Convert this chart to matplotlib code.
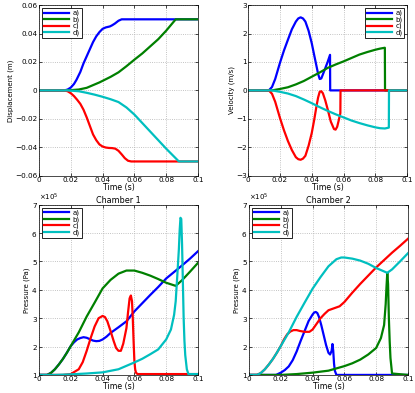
import numpy as np
import matplotlib
matplotlib.use("Agg")
from matplotlib import pyplot as plt
from matplotlib.ticker import ScalarFormatter

labels = ["a)", "b)", "c)", "d)"]
colors = ["#0000ff", "#008000", "#ff0000", "#00bfbf"]

# ---- displacement (m) ----
disp_a_t = [0, 0.016, 0.018, 0.020, 0.022, 0.0236, 0.026, 0.028, 0.030, 0.032, 0.034, 0.036, 0.038, 0.040, 0.042, 0.0446, 0.046, 0.0477, 0.050, 0.052, 0.1]
disp_a_y = [0, 0, 0.0006, 0.002, 0.0045, 0.0075, 0.013, 0.019, 0.024, 0.029, 0.034, 0.038, 0.041, 0.0433, 0.0443, 0.045, 0.0458, 0.047, 0.049, 0.05, 0.05]
disp_b_t = [0, 0.018, 0.025, 0.030, 0.038, 0.045, 0.050, 0.055, 0.060, 0.065, 0.070, 0.075, 0.080, 0.083, 0.086, 0.1]
disp_b_y = [0, 0, 0.0006, 0.0018, 0.0056, 0.0095, 0.0127, 0.017, 0.0216, 0.026, 0.031, 0.036, 0.042, 0.046, 0.05, 0.05]
disp_c_t = [0, 0.016, 0.018, 0.020, 0.022, 0.024, 0.026, 0.028, 0.030, 0.032, 0.034, 0.036, 0.038, 0.040, 0.042, 0.044, 0.046, 0.048, 0.050, 0.052, 0.054, 0.056, 0.058, 0.1]
disp_c_y = [0, 0, -0.0006, -0.002, -0.004, -0.0066, -0.0095, -0.0136, -0.019, -0.025, -0.031, -0.035, -0.038, -0.0395, -0.0402, -0.0405, -0.0406, -0.041, -0.0425, -0.045, -0.0477, -0.0495, -0.05, -0.05]
disp_d_t = [0, 0.018, 0.025, 0.030, 0.035, 0.040, 0.045, 0.050, 0.055, 0.060, 0.065, 0.070, 0.075, 0.080, 0.084, 0.088, 0.1]
disp_d_y = [0, 0, -0.0006, -0.0017, -0.003, -0.0045, -0.0062, -0.0082, -0.012, -0.017, -0.023, -0.029, -0.035, -0.041, -0.0455, -0.05, -0.05]

# ---- velocity (m/s) ----
vel_a_t = [0, 0.013, 0.015, 0.017, 0.020, 0.0225, 0.025, 0.0275, 0.030, 0.0315, 0.033, 0.0345, 0.036, 0.038, 0.040, 0.0415, 0.043, 0.044, 0.045, 0.046, 0.047, 0.0485, 0.050, 0.0515, 0.0516, 0.1]
vel_a_y = [0, 0, 0.12, 0.4, 0.97, 1.4, 1.78, 2.15, 2.42, 2.53, 2.57, 2.53, 2.42, 2.1, 1.66, 1.25, 0.85, 0.58, 0.4, 0.42, 0.56, 0.78, 1.0, 1.25, 0, 0]
vel_b_t = [0, 0.015, 0.020, 0.025, 0.030, 0.035, 0.040, 0.045, 0.050, 0.055, 0.060, 0.065, 0.070, 0.075, 0.080, 0.083, 0.086, 0.0861, 0.1]
vel_b_y = [0, 0, 0.05, 0.11, 0.21, 0.33, 0.48, 0.63, 0.79, 0.91, 1.02, 1.14, 1.26, 1.35, 1.43, 1.47, 1.5, 0, 0]
vel_c_t = [0, 0.013, 0.015, 0.017, 0.020, 0.0225, 0.025, 0.0275, 0.030, 0.0315, 0.033, 0.0345, 0.036, 0.038, 0.040, 0.0415, 0.043, 0.044, 0.045, 0.046, 0.047, 0.0485, 0.050, 0.052, 0.054, 0.055, 0.056, 0.057, 0.058, 0.0581, 0.1]
vel_c_y = [0, 0, -0.12, -0.4, -0.97, -1.4, -1.78, -2.1, -2.35, -2.42, -2.44, -2.4, -2.3, -1.95, -1.5, -1.05, -0.55, -0.25, -0.05, -0.03, -0.1, -0.35, -0.66, -1.1, -1.36, -1.38, -1.28, -1.05, -0.8, 0, 0]
vel_d_t = [0, 0.015, 0.020, 0.025, 0.030, 0.035, 0.040, 0.045, 0.050, 0.055, 0.060, 0.065, 0.070, 0.075, 0.080, 0.083, 0.086, 0.0885, 0.0886, 0.1]
vel_d_y = [0, 0, -0.05, -0.11, -0.2, -0.32, -0.45, -0.59, -0.72, -0.84, -0.95, -1.06, -1.15, -1.23, -1.3, -1.33, -1.34, -1.31, 0, 0]

# ---- chamber 1 pressure (x1e5 Pa) ----
p1_a_t = [0, 0.005, 0.0075, 0.010, 0.0125, 0.015, 0.0175, 0.020, 0.022, 0.024, 0.026, 0.028, 0.030, 0.032, 0.034, 0.036, 0.038, 0.040, 0.0425, 0.045, 0.050, 0.055, 0.060, 0.065, 0.070, 0.075, 0.080, 0.085, 0.090, 0.095, 0.1]
p1_a_y = [1.0, 1.0, 1.07, 1.2, 1.37, 1.56, 1.78, 2.02, 2.15, 2.25, 2.3, 2.33, 2.31, 2.26, 2.21, 2.19, 2.2, 2.25, 2.35, 2.48, 2.68, 2.89, 3.24, 3.53, 3.82, 4.1, 4.4, 4.63, 4.86, 5.1, 5.36]
p1_b_t = [0, 0.005, 0.0075, 0.010, 0.0125, 0.015, 0.0175, 0.020, 0.025, 0.030, 0.035, 0.040, 0.045, 0.050, 0.055, 0.060, 0.065, 0.070, 0.075, 0.080, 0.086, 0.090, 0.095, 0.1]
p1_b_y = [1.0, 1.0, 1.07, 1.2, 1.37, 1.56, 1.78, 2.02, 2.5, 3.06, 3.55, 4.05, 4.35, 4.57, 4.68, 4.68, 4.6, 4.5, 4.38, 4.25, 4.14, 4.34, 4.64, 4.95]
p1_c_t = [0, 0.015, 0.020, 0.025, 0.0275, 0.030, 0.0325, 0.035, 0.0375, 0.040, 0.0415, 0.043, 0.045, 0.047, 0.0485, 0.050, 0.0515, 0.053, 0.055, 0.056, 0.057, 0.0578, 0.0585, 0.059, 0.0595, 0.060, 0.0605, 0.061, 0.062, 0.1]
p1_c_y = [1.0, 1.0, 1.03, 1.2, 1.45, 1.85, 2.3, 2.71, 3.0, 3.08, 3.04, 2.89, 2.55, 2.19, 1.95, 1.85, 1.85, 2.1, 2.65, 3.2, 3.7, 3.8, 3.6, 3.0, 2.2, 1.5, 1.2, 1.08, 1.03, 1.03]
p1_d_t = [0, 0.010, 0.020, 0.030, 0.040, 0.050, 0.060, 0.065, 0.070, 0.075, 0.080, 0.083, 0.085, 0.086, 0.087, 0.088, 0.0885, 0.089, 0.0895, 0.090, 0.0905, 0.091, 0.0915, 0.092, 0.093, 0.094, 0.1]
p1_d_y = [1.0, 1.0, 1.02, 1.05, 1.09, 1.2, 1.44, 1.57, 1.73, 1.9, 2.25, 2.6, 3.12, 3.6, 4.5, 5.44, 6.1, 6.54, 6.5, 5.6, 4.3, 3.0, 2.2, 1.7, 1.2, 1.03, 1.03]

# ---- chamber 2 pressure (x1e5 Pa) ----
p2_a_t = [0, 0.017, 0.020, 0.0225, 0.025, 0.0275, 0.030, 0.0325, 0.035, 0.0375, 0.040, 0.041, 0.042, 0.043, 0.044, 0.0455, 0.047, 0.0485, 0.050, 0.051, 0.052, 0.0525, 0.053, 0.0535, 0.054, 0.055, 0.1]
p2_a_y = [1.0, 1.0, 1.08, 1.17, 1.3, 1.52, 1.83, 2.2, 2.55, 2.9, 3.13, 3.2, 3.22, 3.18, 3.05, 2.75, 2.4, 2.05, 1.78, 1.72, 1.85, 2.09, 1.85, 1.4, 1.15, 1.0, 1.0]
p2_b_t = [0, 0.020, 0.030, 0.040, 0.050, 0.060, 0.065, 0.070, 0.075, 0.080, 0.083, 0.085, 0.086, 0.0865, 0.087, 0.0875, 0.088, 0.0885, 0.089, 0.090, 0.1]
p2_b_y = [1.0, 1.0, 1.03, 1.08, 1.15, 1.31, 1.41, 1.54, 1.72, 1.95, 2.3, 2.76, 3.5, 4.1, 4.6, 4.2, 3.0, 2.2, 1.6, 1.05, 1.0]
p2_c_t = [0, 0.005, 0.0075, 0.010, 0.0125, 0.015, 0.0175, 0.020, 0.022, 0.024, 0.026, 0.028, 0.030, 0.032, 0.035, 0.038, 0.040, 0.0425, 0.045, 0.0475, 0.050, 0.055, 0.057, 0.060, 0.065, 0.070, 0.075, 0.080, 0.085, 0.090, 0.095, 0.1]
p2_c_y = [1.0, 1.0, 1.07, 1.2, 1.37, 1.56, 1.78, 2.02, 2.25, 2.43, 2.53, 2.58, 2.58, 2.55, 2.52, 2.52, 2.6, 2.8, 3.0, 3.15, 3.28, 3.38, 3.42, 3.57, 3.9, 4.21, 4.5, 4.79, 5.05, 5.31, 5.55, 5.8]
p2_d_t = [0, 0.005, 0.0075, 0.010, 0.0125, 0.015, 0.0175, 0.020, 0.025, 0.030, 0.035, 0.040, 0.045, 0.050, 0.055, 0.058, 0.060, 0.065, 0.070, 0.075, 0.080, 0.087, 0.090, 0.095, 0.1]
p2_d_y = [1.0, 1.0, 1.07, 1.2, 1.37, 1.56, 1.78, 2.02, 2.5, 3.05, 3.55, 4.04, 4.45, 4.83, 5.08, 5.14, 5.14, 5.1, 5.03, 4.92, 4.77, 4.6, 4.72, 5.0, 5.29]

plt.rcParams["font.family"] = "DejaVu Sans"
plt.rcParams["font.size"] = 5.5
fig = plt.figure(figsize=(4.15, 3.93), dpi=100)

w = 0.383
ax1 = fig.add_axes([0.094, 0.553, w, 0.434])
ax2 = fig.add_axes([0.598, 0.553, w, 0.434])
ax3 = fig.add_axes([0.094, 0.046, w, 0.433])
ax4 = fig.add_axes([0.600, 0.046, w, 0.433])

series = {
    ax1: [(disp_a_t, disp_a_y), (disp_b_t, disp_b_y), (disp_c_t, disp_c_y), (disp_d_t, disp_d_y)],
    ax2: [(vel_a_t, vel_a_y), (vel_b_t, vel_b_y), (vel_c_t, vel_c_y), (vel_d_t, vel_d_y)],
    ax3: [(p1_a_t, p1_a_y), (p1_b_t, p1_b_y), (p1_c_t, p1_c_y), (p1_d_t, p1_d_y)],
    ax4: [(p2_a_t, p2_a_y), (p2_b_t, p2_b_y), (p2_c_t, p2_c_y), (p2_d_t, p2_d_y)],
}

for ax, data in series.items():
    scale = 1e5 if ax in (ax3, ax4) else 1.0
    for (t, y), c, lab in zip(data, colors, labels):
        ax.plot(t, np.array(y) * scale, color=c, lw=1.6, label=lab)
    ax.set_xlim(0, 0.1)
    ax.set_xticks([0, 0.02, 0.04, 0.06, 0.08, 0.1])
    ax.set_xticklabels(["0", "0.02", "0.04", "0.06", "0.08", "0.1"])
    ax.grid(True, linestyle=":", color="#b0b0b0", lw=0.6)
    ax.tick_params(direction="in", length=2.5, width=0.5, labelsize=5.2, pad=1, top=True, right=True)
    for s in ax.spines.values():
        s.set_linewidth(0.5)
    ax.set_xlabel("Time (s)", fontsize=5.6, labelpad=0)

ax1.set_ylim(-0.06, 0.06)
ax1.set_yticks([-0.06, -0.04, -0.02, 0, 0.02, 0.04, 0.06])
ax1.set_yticklabels(["\u22120.06", "\u22120.04", "\u22120.02", "0", "0.02", "0.04", "0.06"])
ax1.set_ylabel("Displacement (m)", fontsize=5, labelpad=1)

ax2.set_ylim(-3, 3)
ax2.set_yticks([-3, -2, -1, 0, 1, 2, 3])
ax2.set_yticklabels(["\u22123", "\u22122", "\u22121", "0", "1", "2", "3"])
ax2.set_ylabel("Velocity (m/s)", fontsize=5, labelpad=1)

for ax, title in ((ax3, "Chamber 1"), (ax4, "Chamber 2")):
    ax.set_ylim(1e5, 7e5)
    ax.set_yticks(np.arange(1, 8) * 1e5)
    fmt = ScalarFormatter(useMathText=True)
    fmt.set_powerlimits((0, 0))
    ax.yaxis.set_major_formatter(fmt)
    ax.yaxis.get_offset_text().set_fontsize(5)
    ax.set_ylabel("Pressure (Pa)", fontsize=5, labelpad=1)
    ax.set_title(title, fontsize=5.8, pad=1.5)

for ax, loc in ((ax1, "upper left"), (ax2, "upper right"), (ax3, "upper left"), (ax4, "upper left")):
    leg = ax.legend(loc=loc, fontsize=5, fancybox=False, edgecolor="black", framealpha=1,
                    handlelength=3.6, labelspacing=0.0, borderpad=0.3, handletextpad=0.5,
                    borderaxespad=0.4)
    leg.get_frame().set_linewidth(0.6)

fig.savefig("out.png", dpi=100)
